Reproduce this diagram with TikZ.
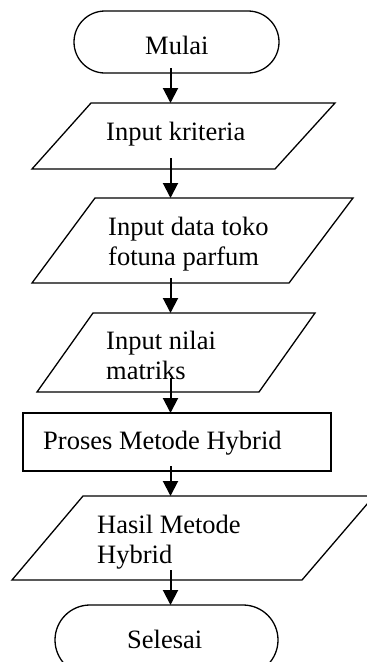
\documentclass[tikz,border=0pt]{standalone}
\usepackage{fontspec}
\setmainfont{Liberation Serif}
\usetikzlibrary{arrows.meta}
\begin{document}
\begin{tikzpicture}[x=1pt,y=-1pt,
  outline/.style={draw, line width=1.3pt, line join=miter},
  boxline/.style={draw, line width=1.8pt},
  lbl/.style={anchor=base west, inner sep=0pt, font=\fontsize{26.5}{30}\selectfont},
  flow/.style={line width=2pt, -{Triangle[length=15pt,width=15pt]}}]
\useasboundingbox (0,0) rectangle (367,662);

% start terminator
\draw[outline, rounded corners=31pt] (74,11) rectangle (279,73);
\node[lbl] (mulai) at (145,54) {Mulai};
\path (170.5,68) coordinate (mulaiOut);

% input: criteria
\draw[outline] (91,103) -- (335,103) -- (275,169) -- (32,169) -- cycle;
\node[lbl] (kriteria) at (106,140) {Input kriteria};
\path (170.5,103) coordinate (kriteriaIn) (170.5,158) coordinate (kriteriaOut);

% input: store data
\draw[outline] (95,198) -- (353,198) -- (289,283) -- (32,283) -- cycle;
\node[lbl] (toko1) at (108,235) {Input data toko};
\node[lbl] (toko2) at (108,265) {fotuna parfum};
\path (170.5,198) coordinate (tokoIn) (170.5,278) coordinate (tokoOut);

% input: matrix values
\draw[outline] (93,313) -- (315,313) -- (259,392) -- (37,392) -- cycle;
\node[lbl] (nilai1) at (106,349) {Input nilai};
\node[lbl] (nilai2) at (106,379) {matriks};
\path (170.5,313) coordinate (nilaiIn) (170.5,378) coordinate (nilaiOut);

% process
\draw[boxline] (23,413) rectangle (331,471);
\node[lbl] (proses) at (43,449) {Proses Metode Hybrid};
\path (170.5,413) coordinate (prosesIn) (170.5,466) coordinate (prosesOut);

% output
\draw[outline] (83,496) -- (374,496) -- (302,580) -- (12,580) -- cycle;
\node[lbl] (hasil1) at (97,533) {Hasil Metode};
\node[lbl] (hasil2) at (97,563) {Hybrid};
\path (170.5,496) coordinate (hasilIn) (170.5,570) coordinate (hasilOut);

% end terminator
\draw[outline, rounded corners=35pt] (55,605) rectangle (278,675);
\node[lbl] (selesai) at (127,648) {Selesai};
\path (170.5,605) coordinate (selesaiIn);

% connectors
\draw[flow] (mulaiOut) -- (kriteriaIn);
\draw[flow] (kriteriaOut) -- (tokoIn);
\draw[flow] (tokoOut) -- (nilaiIn);
\draw[flow] (nilaiOut) -- (prosesIn);
\draw[flow] (prosesOut) -- (hasilIn);
\draw[flow] (hasilOut) -- (selesaiIn);
\end{tikzpicture}
\end{document}
